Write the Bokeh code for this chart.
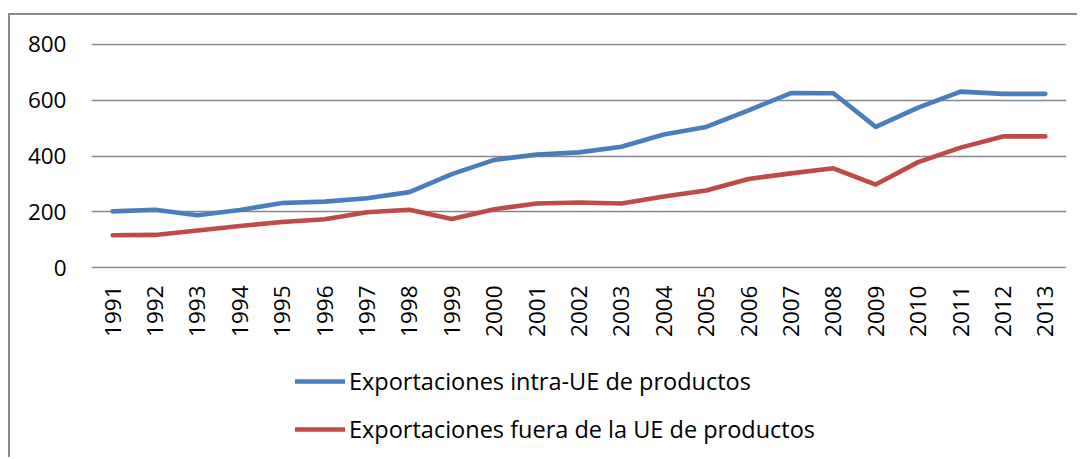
from bokeh.plotting import figure
from bokeh.models import Legend, LegendItem, FactorRange, Range1d, FixedTicker
from bokeh.layouts import column
from bokeh.embed import file_html
from bokeh.resources import INLINE
import math

years = [str(y) for y in range(1991, 2014)]
intra_ue = [202, 208, 188, 207, 232, 237, 249, 271, 335, 386, 405, 413, 433, 477, 504, 563, 625, 624, 504, 573, 630, 622, 622]
fuera_ue = [117, 118, 134, 150, 164, 174, 199, 208, 175, 210, 230, 234, 230, 255, 277, 318, 338, 356, 298, 378, 430, 470, 470]
y_ticks = [0, 200, 400, 600, 800]
labels = ["Exportaciones intra-UE de productos", "Exportaciones fuera de la UE de productos"]
colors = ["#4A7EBB", "#BE4B48"]
series = [intra_ue, fuera_ue]

FONT = "Open Sans"

p = figure(width=1067, height=343, x_range=FactorRange(*years), y_range=Range1d(-2, 802),
           output_backend="svg", toolbar_location=None,
           min_border_left=81, min_border_right=11, min_border_top=28, min_border_bottom=90)
p.outline_line_color = None

for vals, c in zip(series, colors):
    p.line(years, vals, line_color=c, line_width=4.6, line_join="round", line_cap="round")

p.xgrid.grid_line_color = None
p.ygrid.grid_line_color = "#878787"
p.ygrid.grid_line_width = 1.7
p.yaxis.ticker = FixedTicker(ticks=y_ticks)

for ax in (p.xaxis[0], p.yaxis[0]):
    ax.axis_line_color = None
    ax.major_tick_line_color = None
    ax.minor_tick_line_color = None
    ax.major_label_text_font = FONT
    ax.major_label_text_font_size = "22.5px"
    ax.major_label_text_color = "black"

p.yaxis.major_label_standoff = 19
p.xaxis.major_label_orientation = math.pi / 2
p.xaxis.major_label_standoff = 11

# legend strip below the chart (its lines use the series data but lie outside its view)
pl = figure(width=1067, height=99, x_axis_type=None, y_axis_type=None,
            x_range=Range1d(0, 1), y_range=Range1d(0, 1),
            output_backend="svg", toolbar_location=None,
            min_border_left=0, min_border_right=0, min_border_top=0, min_border_bottom=0)
pl.outline_line_color = None
pl.grid.grid_line_color = None
proxies = [pl.line(x=list(range(len(years))), y=vals, line_color=c, line_width=4.6, line_cap="round")
           for vals, c in zip(series, colors)]

legend = Legend(items=[LegendItem(label=lab, renderers=[r]) for lab, r in zip(labels, proxies)],
                location=(204, 11), orientation="vertical",
                glyph_width=50, glyph_height=34, label_height=34, spacing=14,
                label_standoff=4, padding=0, margin=0,
                border_line_color=None, background_fill_alpha=0,
                label_text_font=FONT, label_text_font_size="23.5px", label_text_color="black")
pl.add_layout(legend, "center")

layout = column(p, pl, spacing=0)
layout.styles = {"border-left": "2px solid #8a8a8a", "border-top": "2px solid #8a8a8a",
                 "margin-top": "13px", "margin-left": "8px"}
open("out.html", "w").write(file_html(layout, INLINE))
